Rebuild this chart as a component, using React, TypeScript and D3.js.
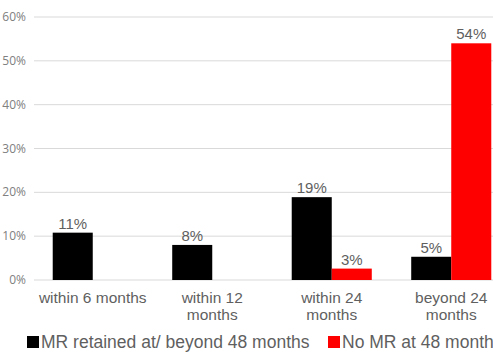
import React from "react";
import * as d3 from "d3";

const categories = ["within 6 months", "within 12 months", "within 24 months", "beyond 24 months"];
const categoryLines = [["within 6 months"], ["within 12", "months"], ["within 24", "months"], ["beyond 24", "months"]];
const retained = [0.108, 0.08, 0.189, 0.053];
const noMR = [0, 0, 0.026, 0.54];
const seriesNames = ["MR retained at/ beyond 48 months", "No MR at 48 months"];
const seriesColors = ["#000000", "#ff0000"];
const yTicks = [0, 0.1, 0.2, 0.3, 0.4, 0.5, 0.6];

const W = 493;
const H = 362;

export default function App() {
  const x = d3.scaleBand<string>().domain(categories).range([33, 511]).paddingInner(0.33).paddingOuter(0.165);
  const y = d3.scaleLinear().domain([0, 0.6]).range([280, 17]);
  const sub = d3.scaleBand<number>().domain([0, 1]).range([0, x.bandwidth()]);
  const fmt = d3.format(".0%");
  const series = [retained, noMR];

  return (
    <svg width={W} height={H} style={{ position: "absolute", left: 0, top: 0, background: "#fff" }}>
      {yTicks.map((t) => (
        <g key={t}>
          <line x1={34} x2={W} y1={y(t)} y2={y(t)} stroke="#d9d9d9" strokeWidth={1} />
          <text x={26} y={y(t) + 4} textAnchor="end" fontFamily="Open Sans, sans-serif" fontSize={12} fill="#808080">
            {fmt(t)}
          </text>
        </g>
      ))}
      {series.map((vals, si) =>
        vals.map((v, ci) => {
          const bx = (x(categories[ci]) ?? 0) + (sub(si) ?? 0);
          if (v <= 0) return null;
          return (
            <g key={`${si}-${ci}`}>
              <rect x={bx} y={y(v)} width={sub.bandwidth()} height={y(0) - y(v)} fill={seriesColors[si]} />
              <text x={bx + sub.bandwidth() / 2} y={y(v) - 4} textAnchor="middle" fontFamily="Liberation Sans, Arial, sans-serif" fontSize={15} fill="#5f5f5f">
                {fmt(v)}
              </text>
            </g>
          );
        })
      )}
      {categories.map((c, ci) => (
        <text key={c} textAnchor="middle" fontFamily="Liberation Sans, Arial, sans-serif" fontSize={15.5} fill="#5f5f5f">
          {categoryLines[ci].map((ln, li) => (
            <tspan key={li} x={(x(c) ?? 0) + x.bandwidth() / 2} y={303 + li * 17}>
              {ln}
            </tspan>
          ))}
        </text>
      ))}
      {seriesNames.map((n, si) => {
        const lx = si === 0 ? 27 : 328;
        return (
          <g key={n}>
            <rect x={lx} y={336} width={12} height={12} fill={seriesColors[si]} />
            <text x={lx + 14} y={348} fontFamily="Liberation Sans, Arial, sans-serif" fontSize={17.5} fill="#5f5f5f">
              {n}
            </text>
          </g>
        );
      })}
    </svg>
  );
}
